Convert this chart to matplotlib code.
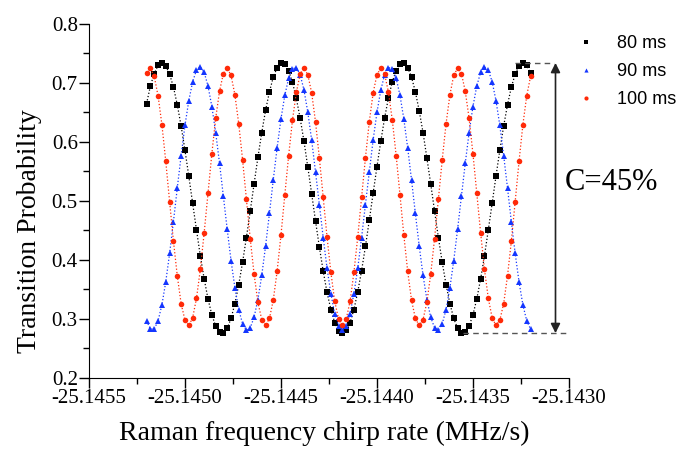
import matplotlib
matplotlib.use("Agg")
import matplotlib.pyplot as plt
from matplotlib.lines import Line2D
from matplotlib.ticker import MultipleLocator, FormatStrFormatter

plt.rcParams['font.family'] = ['Liberation Serif', 'DejaVu Serif']
plt.rcParams['axes.unicode_minus'] = False

# Raman chirp rate scan (MHz/s)
chirp = [-25.14520, -25.14518, -25.14516, -25.14514, -25.14512, -25.14510, -25.14508, -25.14506, -25.14504, -25.14502,
         -25.14500, -25.14498, -25.14496, -25.14494, -25.14492, -25.14490, -25.14488, -25.14486, -25.14484, -25.14482,
         -25.14480, -25.14478, -25.14476, -25.14474, -25.14472, -25.14470, -25.14468, -25.14466, -25.14464, -25.14462,
         -25.14460, -25.14458, -25.14456, -25.14454, -25.14452, -25.14450, -25.14448, -25.14446, -25.14444, -25.14442,
         -25.14440, -25.14438, -25.14436, -25.14434, -25.14432, -25.14430, -25.14428, -25.14426, -25.14424, -25.14422,
         -25.14420, -25.14418, -25.14416, -25.14414, -25.14412, -25.14410, -25.14408, -25.14406, -25.14404, -25.14402,
         -25.14400, -25.14398, -25.14396, -25.14394, -25.14392, -25.14390, -25.14388, -25.14386, -25.14384, -25.14382,
         -25.14380, -25.14378, -25.14376, -25.14374, -25.14372, -25.14370, -25.14368, -25.14366, -25.14364, -25.14362,
         -25.14360, -25.14358, -25.14356, -25.14354, -25.14352, -25.14350, -25.14348, -25.14346, -25.14344, -25.14342,
         -25.14340, -25.14338, -25.14336, -25.14334, -25.14332, -25.14330, -25.14328, -25.14326, -25.14324, -25.14322,
         -25.14320]

# transition probability, T = 80 ms
p80 = [0.665, 0.695, 0.716, 0.730, 0.734, 0.729, 0.715, 0.693, 0.663, 0.627,
       0.586, 0.542, 0.496, 0.451, 0.407, 0.368, 0.334, 0.307, 0.288, 0.278,
       0.277, 0.284, 0.301, 0.326, 0.358, 0.396, 0.438, 0.483, 0.529, 0.574,
       0.616, 0.654, 0.685, 0.710, 0.726, 0.734, 0.732, 0.721, 0.701, 0.674,
       0.640, 0.601, 0.557, 0.512, 0.466, 0.422, 0.381, 0.345, 0.316, 0.294,
       0.280, 0.276, 0.281, 0.294, 0.316, 0.346, 0.382, 0.423, 0.467, 0.513,
       0.558, 0.601, 0.641, 0.675, 0.702, 0.721, 0.732, 0.734, 0.726, 0.710,
       0.685, 0.653, 0.616, 0.573, 0.529, 0.483, 0.438, 0.396, 0.358, 0.326,
       0.301, 0.284, 0.277, 0.278, 0.288, 0.307, 0.334, 0.368, 0.407, 0.451,
       0.496, 0.542, 0.586, 0.627, 0.663, 0.693, 0.715, 0.729, 0.734, 0.730,
       0.717]

# T = 90 ms
p90 = [0.297, 0.283, 0.283, 0.297, 0.324, 0.363, 0.411, 0.465, 0.522, 0.577,
       0.628, 0.670, 0.702, 0.722, 0.727, 0.718, 0.695, 0.660, 0.616, 0.564,
       0.508, 0.452, 0.399, 0.353, 0.316, 0.292, 0.281, 0.285, 0.303, 0.333,
       0.374, 0.424, 0.479, 0.536, 0.590, 0.639, 0.679, 0.708, 0.724, 0.726,
       0.714, 0.688, 0.650, 0.603, 0.549, 0.494, 0.438, 0.386, 0.343, 0.309,
       0.288, 0.281, 0.288, 0.309, 0.343, 0.386, 0.438, 0.494, 0.549, 0.603,
       0.650, 0.688, 0.714, 0.726, 0.724, 0.708, 0.679, 0.639, 0.590, 0.536,
       0.479, 0.424, 0.374, 0.333, 0.303, 0.285, 0.281, 0.292, 0.316, 0.353,
       0.399, 0.452, 0.508, 0.564, 0.616, 0.660, 0.695, 0.718, 0.727, 0.722,
       0.702, 0.670, 0.628, 0.577, 0.522, 0.465, 0.411, 0.363, 0.324, 0.297,
       0.283]

# T = 100 ms
p100 = [0.717, 0.725, 0.711, 0.678, 0.629, 0.567, 0.499, 0.432, 0.373, 0.326,
        0.298, 0.289, 0.302, 0.335, 0.384, 0.446, 0.513, 0.580, 0.640, 0.686,
        0.716, 0.725, 0.713, 0.680, 0.631, 0.570, 0.503, 0.436, 0.376, 0.328,
        0.299, 0.289, 0.301, 0.332, 0.381, 0.442, 0.510, 0.577, 0.637, 0.684,
        0.715, 0.725, 0.714, 0.683, 0.634, 0.573, 0.506, 0.439, 0.379, 0.330,
        0.300, 0.289, 0.300, 0.330, 0.379, 0.439, 0.506, 0.573, 0.634, 0.683,
        0.714, 0.725, 0.715, 0.684, 0.637, 0.577, 0.510, 0.442, 0.381, 0.332,
        0.301, 0.289, 0.299, 0.328, 0.376, 0.436, 0.503, 0.570, 0.631, 0.680,
        0.713, 0.725, 0.716, 0.686, 0.640, 0.580, 0.513, 0.446, 0.384, 0.335,
        0.302, 0.289, 0.298, 0.326, 0.373, 0.432, 0.499, 0.567, 0.629, 0.678,
        0.711]

labels = ['80 ms', '90 ms', '100 ms']
colors = ['#000000', '#1436ff', '#ff2a08']
markers = ['s', '^', 'o']
sizes = [3.8, 4.4, 4.0]

fig = plt.figure(figsize=(6.94, 4.53), dpi=100)
ax = fig.add_axes([0.1282, 0.1656, 0.6916, 0.7815])

for y, lab, c, m, s in zip([p80, p90, p100], labels, colors, markers, sizes):
    ax.plot(chirp, y, ls=':', lw=0.9, color=c, marker=m, ms=s,
            markeredgewidth=0, label=lab)

ax.set_xlim(-25.1455, -25.1430)
ax.set_ylim(0.2, 0.8)
ax.xaxis.set_major_locator(MultipleLocator(0.0005))
ax.xaxis.set_minor_locator(MultipleLocator(0.00025))
ax.xaxis.set_major_formatter(FormatStrFormatter('%.4f'))
ax.yaxis.set_major_locator(MultipleLocator(0.1))
ax.yaxis.set_minor_locator(MultipleLocator(0.05))
ax.yaxis.set_major_formatter(FormatStrFormatter('%.1f'))
ax.tick_params(which='major', direction='out', length=7, width=1, pad=1, labelsize=15)
ax.tick_params(which='minor', direction='out', length=4, width=1)
for s in ['top', 'right']:
    ax.spines[s].set_visible(False)

ax.set_xlabel('Raman frequency chirp rate (MHz/s)', fontsize=20)
ax.set_ylabel('Transition Probability', fontsize=20)
ax.xaxis.set_label_coords(0.49, -0.12)
ax.yaxis.set_label_coords(-0.098, 0.415)

# contrast marker
top, bot = max(p80), min(p80)
ax.plot([-25.14328, -25.14308], [top, top], color='#555555', lw=1, dashes=(4, 3))
ax.plot([-25.14355, -25.14300], [bot, bot], color='#555555', lw=1, dashes=(4, 3))
ax.annotate('', xy=(-25.14307, top), xytext=(-25.14307, bot),
            arrowprops=dict(arrowstyle='<|-|>', color='#222222', lw=1.2,
                            shrinkA=0, shrinkB=0, mutation_scale=14))
fig.text(565 / 694, 1 - 182 / 453, 'C=45%', fontsize=22, ha='left', va='center')

handles = [Line2D([], [], ls='none', marker=m, color=c, ms=3, markeredgewidth=0)
           for m, c in zip(markers, colors)]
fig.legend(handles, labels, loc='upper left', bbox_to_anchor=(568 / 694, 1 - 28 / 453),
           frameon=False, prop={'family': 'Liberation Sans', 'size': 13},
           handlelength=1.2, handletextpad=1.1, labelspacing=0.6, borderaxespad=0)

fig.savefig('out.png', dpi=100)
